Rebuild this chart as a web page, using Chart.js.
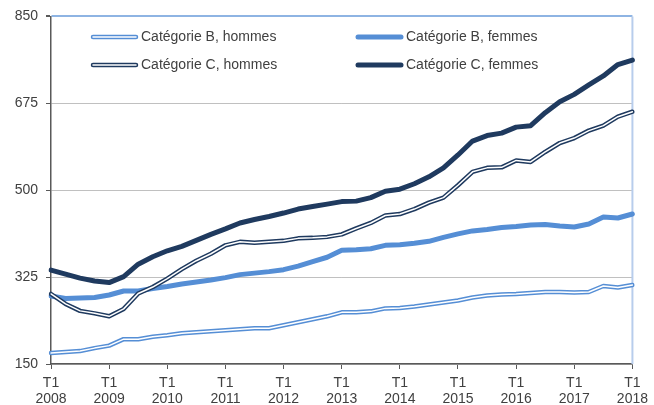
<!DOCTYPE html>
<html>
<head>
<meta charset="utf-8">
<script src="https://cdn.jsdelivr.net/npm/chart.js@4"></script>
<style>
  html, body { margin: 0; padding: 0; background: #ffffff; }
  #wrap { width: 654px; height: 405px; }
</style>
</head>
<body>
<div id="wrap"><canvas id="chart" width="654" height="405"></canvas></div>
<script>
const years = ['2008', '2009', '2010', '2011', '2012', '2013', '2014', '2015', '2016', '2017', '2018'];
const quarters = ['T1', 'T2', 'T3', 'T4'];

const bHommes = [172, 174, 176, 182, 187, 200, 200, 205, 208, 212, 214, 216, 218, 220, 222, 222, 228, 234, 240, 246, 254, 254, 256, 262, 263, 266, 270, 274, 278, 284, 288, 290, 291, 293, 295, 295, 294, 295, 307, 304, 309];
const bFemmes = [287, 282, 283, 284, 289, 297, 297, 302, 306, 311, 315, 319, 324, 330, 333, 336, 340, 347, 356, 365, 379, 380, 382, 389, 390, 393, 397, 405, 412, 418, 421, 425, 427, 430, 431, 428, 426, 432, 446, 444, 452];
const cHommes = [291, 271, 257, 252, 246, 261, 292, 305, 322, 341, 358, 372, 389, 396, 394, 396, 398, 403, 404, 406, 411, 423, 434, 449, 452, 462, 475, 485, 510, 537, 545, 546, 560, 557, 577, 595, 605, 620, 630, 648, 658];
const cFemmes = [339, 331, 323, 317, 314, 326, 351, 366, 378, 387, 399, 411, 422, 434, 441, 447, 454, 462, 467, 472, 477, 478, 485, 498, 502, 513, 527, 545, 571, 599, 610, 615, 627, 630, 656, 678, 693, 712, 730, 753, 762];

const seriesNames = ['Catégorie B, hommes', 'Catégorie B, femmes', 'Catégorie C, hommes', 'Catégorie C, femmes'];

const labels = [];
years.forEach((y, i) => {
    if (i < years.length - 1) {
        quarters.forEach((q) => labels.push(q + ' ' + y));
    } else {
        labels.push('T1 ' + y);
    }
});

const lightBlue = '#558ed5';
const darkBlue = '#1f3a5f';
const textColor = '#404040';
const axisColor = '#595959';

const baseLine = { pointRadius: 0, pointHoverRadius: 0, tension: 0, fill: false, borderJoinStyle: 'round', borderCapStyle: 'round' };

// right frame line + legend drawn inside the plot (so the double lines show in it)
const framePlugin = {
    id: 'frameAndLegend',
    beforeDatasetsDraw(chart) {
        const { ctx, chartArea } = chart;
        ctx.save();
        ctx.strokeStyle = '#b8cdec';
        ctx.lineWidth = 2;
        ctx.beginPath();
        ctx.moveTo(chartArea.right, chartArea.top);
        ctx.lineTo(chartArea.right, chartArea.bottom);
        ctx.stroke();
        ctx.restore();
    },
    afterDatasetsDraw(chart) {
        const ctx = chart.ctx;
        const items = [
            { name: seriesNames[0], color: lightBlue, double: true, x: 93, y: 37 },
            { name: seriesNames[1], color: lightBlue, double: false, x: 358, y: 37 },
            { name: seriesNames[2], color: darkBlue, double: true, x: 93, y: 65 },
            { name: seriesNames[3], color: darkBlue, double: false, x: 358, y: 65 },
        ];
        ctx.save();
        ctx.lineCap = 'round';
        items.forEach((it) => {
            ctx.beginPath();
            ctx.strokeStyle = it.color;
            ctx.lineWidth = it.double ? 4.5 : 5;
            ctx.moveTo(it.x, it.y);
            ctx.lineTo(it.x + 43, it.y);
            ctx.stroke();
            if (it.double) {
                ctx.beginPath();
                ctx.strokeStyle = '#ffffff';
                ctx.lineWidth = 1.5;
                ctx.moveTo(it.x, it.y);
                ctx.lineTo(it.x + 43, it.y);
                ctx.stroke();
            }
            ctx.fillStyle = textColor;
            ctx.font = '14px "Liberation Sans", Arial, sans-serif';
            ctx.textBaseline = 'middle';
            ctx.fillText(it.name, it.x + 48, it.y);
        });
        ctx.restore();
    }
};

new Chart(document.getElementById('chart'), {
    type: 'line',
    data: {
        labels: labels,
        datasets: [
            { ...baseLine, label: seriesNames[3], data: cFemmes, borderColor: darkBlue, borderWidth: 5, order: 1 },
            { ...baseLine, label: seriesNames[2] + ' (fond)', data: cHommes, borderColor: '#ffffff', borderWidth: 1.5, order: 2 },
            { ...baseLine, label: seriesNames[2], data: cHommes, borderColor: darkBlue, borderWidth: 4.5, order: 3 },
            { ...baseLine, label: seriesNames[1], data: bFemmes, borderColor: lightBlue, borderWidth: 5, order: 4 },
            { ...baseLine, label: seriesNames[0] + ' (fond)', data: bHommes, borderColor: '#ffffff', borderWidth: 1.5, order: 5 },
            { ...baseLine, label: seriesNames[0], data: bHommes, borderColor: lightBlue, borderWidth: 4.5, order: 6 },
        ],
    },
    options: {
        responsive: false,
        animation: false,
        events: [],
        layout: { padding: { top: 15, right: 18, left: 0, bottom: 0 } },
        scales: {
            x: {
                offset: false,
                grid: {
                    drawOnChartArea: false,
                    tickColor: axisColor,
                    tickLength: 5,
                },
                border: { color: axisColor, width: 1.5 },
                ticks: {
                    autoSkip: false,
                    maxRotation: 0,
                    padding: 6,
                    color: textColor,
                    font: { family: '"Liberation Sans", Arial, sans-serif', size: 14, lineHeight: 1.15 },
                    callback: (value, index) => (index % 4 === 0 ? ['T1', years[index / 4]] : null),
                },
                afterFit: (scale) => { scale.height = 41; },
            },
            y: {
                min: 150,
                max: 850,
                grid: {
                    color: (c) => (c.tick && c.tick.value === 850 ? '#8eb4e3' : '#c0c0c0'),
                    lineWidth: (c) => (c.tick && c.tick.value === 850 ? 2 : 1),
                    tickColor: axisColor,
                    tickLength: 5,
                },
                border: { color: axisColor, width: 1.5 },
                ticks: {
                    stepSize: 175,
                    padding: 8,
                    color: textColor,
                    font: { family: '"Liberation Sans", Arial, sans-serif', size: 14 },
                },
                afterFit: (scale) => { scale.width = 51; },
            },
        },
        plugins: {
            legend: { display: false },
            tooltip: { enabled: false },
        },
    },
    plugins: [framePlugin],
});
</script>
</body>
</html>
